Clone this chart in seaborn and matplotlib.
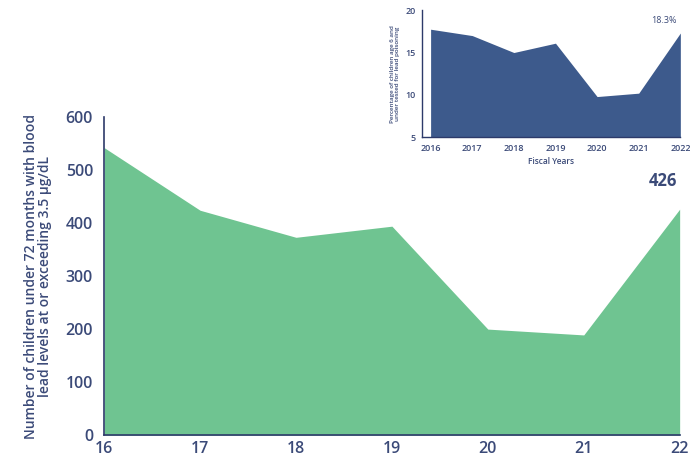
import matplotlib
matplotlib.use("Agg")
import matplotlib.pyplot as plt
import seaborn as sns
import pandas as pd

# Main chart data
years_short = [16, 17, 18, 19, 20, 21, 22]
children_count = [542, 424, 373, 394, 200, 189, 426]
main_label = "426"

# Inset data
fiscal_years = [2016, 2017, 2018, 2019, 2020, 2021, 2022]
pct_tested = [17.75, 17.0, 15.0, 16.1, 9.8, 10.2, 17.3]
inset_label = "18.3%"

sns.set_theme(style="white")
plt.rcParams['font.family'] = ['Open Sans', 'DejaVu Sans']

GREEN = "#6fc491"
NAVY = "#3d5a8c"
AXIS = "#2d3a6a"
TXT = "#3b4a78"

fig = plt.figure(figsize=(6.9, 4.62), dpi=100)

# Main axes
ax = fig.add_axes([0.151, 0.058, 0.834, 0.689])
df = pd.DataFrame({"year": years_short, "count": children_count})
sns.lineplot(data=df, x="year", y="count", ax=ax, color=GREEN, linewidth=0)
ax.fill_between(df["year"], df["count"], 0, color=GREEN, linewidth=0)
ax.set_xlim(16, 22)
ax.set_ylim(0, 600)
ax.set_xticks(years_short)
ax.set_xticklabels([str(y) for y in years_short])
ax.set_yticks(range(0, 601, 100))
ax.tick_params(axis="both", colors=TXT, labelsize=11.5, length=0)
ax.tick_params(axis="x", pad=4)
ax.tick_params(axis="y", pad=8)
for lab in ax.get_xticklabels() + ax.get_yticklabels():
    lab.set_fontweight("semibold")
for s in ["top", "right"]:
    ax.spines[s].set_visible(False)
for s in ["left", "bottom"]:
    ax.spines[s].set_color(AXIS)
    ax.spines[s].set_linewidth(1.2)
ax.set_xlabel("")
ax.set_ylabel("Number of children under 72 months with blood\nlead levels at or exceeding 3.5 µg/dL",
              color=TXT, fontsize=10, fontweight="semibold", linespacing=1.0, labelpad=10)
ax.annotate(main_label, xy=(years_short[-1], children_count[-1]), xytext=(-12, 14),
            textcoords="offset points", ha="center", va="bottom",
            color=TXT, fontsize=12, fontweight="bold")

# Inset axes
ins = fig.add_axes([0.612, 0.703, 0.374, 0.275])
di = pd.DataFrame({"year": fiscal_years, "pct": pct_tested})
sns.lineplot(data=di, x="year", y="pct", ax=ins, color=NAVY, linewidth=0)
ins.fill_between(di["year"], di["pct"], 5, color=NAVY, linewidth=0)
ins.set_xlim(2015.8, 2022)
ins.set_ylim(5, 20)
ins.set_xticks(fiscal_years)
ins.set_yticks([5, 10, 15, 20])
ins.tick_params(axis="both", colors=TXT, labelsize=6.5, length=3, width=0.8, pad=2)
for lab in ins.get_xticklabels() + ins.get_yticklabels():
    lab.set_fontweight("semibold")
for s in ["top", "right"]:
    ins.spines[s].set_visible(False)
for s in ["left", "bottom"]:
    ins.spines[s].set_color(AXIS)
    ins.spines[s].set_linewidth(1.0)
ins.set_xlabel("Fiscal Years", color=TXT, fontsize=6, fontweight="semibold", labelpad=3)
ins.set_ylabel("Percentage of children age 6 and\nunder tested for lead poisoning",
               color=TXT, fontsize=4.5, fontweight="semibold", linespacing=1.0, labelpad=4)
ins.annotate(inset_label, xy=(fiscal_years[-1], pct_tested[-1]), xytext=(-12, 6),
             textcoords="offset points", ha="center", va="bottom",
             color=TXT, fontsize=6.5)

fig.savefig("out.png", dpi=100)
